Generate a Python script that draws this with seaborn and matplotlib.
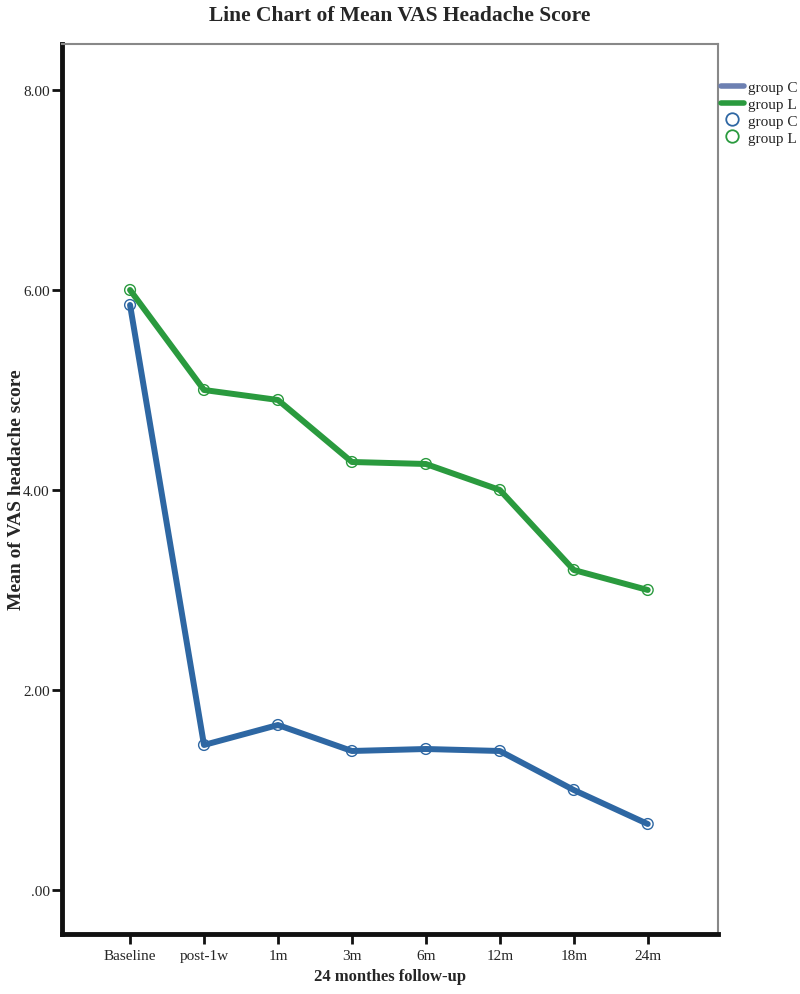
import pandas as pd
import numpy as np
import matplotlib.pyplot as plt
import seaborn as sns
from matplotlib.lines import Line2D

sns.set_theme(style="white")
plt.rcParams["font.family"] = ["Liberation Serif", "DejaVu Serif"]

# Dados
timepoints = ["Baseline", "post-1w", "1m", "3m", "6m", "12m", "18m", "24m"]
group_c = [5.85, 1.45, 1.65, 1.39, 1.41, 1.39, 1.00, 0.66]
group_l = [6.00, 5.00, 4.90, 4.28, 4.26, 4.00, 3.20, 3.00]

df = pd.DataFrame({
    "time": timepoints * 2,
    "pos": list(range(len(timepoints))) * 2,
    "score": group_c + group_l,
    "group": ["group C"] * len(timepoints) + ["group L"] * len(timepoints),
})

colors = {"group C": "#2e67a3", "group L": "#2a9a3e"}

fig = plt.figure(figsize=(8, 9.95), dpi=100)
ax = fig.add_axes([0.0775, 0.0603, 0.82, 0.8945])

sns.lineplot(data=df, x="pos", y="score", hue="group", palette=colors,
             linewidth=4.3, ax=ax, legend=False, sort=False)
sns.scatterplot(data=df, x="pos", y="score", hue="group", palette=colors,
                marker="o", s=60, linewidth=1.0, ax=ax, legend=False)
for coll in ax.collections:
    coll.set_facecolor("none")
    coll.set_edgecolor([colors[g] for g in df["group"]])

ax.set_xlim(-0.92, 7.95)
ax.set_ylim(-0.44, 8.46)
ax.set_xticks(range(len(timepoints)))
ax.set_xticklabels(timepoints)
ax.set_yticks([0, 2, 4, 6, 8])
ax.set_yticklabels([".00", "2.00", "4.00", "6.00", "8.00"])
ax.tick_params(axis="both", which="both", direction="out", length=7, width=2,
               color="#111111", labelsize=11, bottom=True, left=True)
ax.tick_params(axis="x", pad=4)
ax.tick_params(axis="y", pad=2)

for side in ["left", "bottom"]:
    ax.spines[side].set_linewidth(3.5)
    ax.spines[side].set_color("#111111")
for side in ["top", "right"]:
    ax.spines[side].set_linewidth(1.5)
    ax.spines[side].set_color("#888888")

ax.set_xlabel("24 monthes follow-up", fontsize=12, fontweight="bold", labelpad=4)
ax.set_ylabel("Mean of VAS headache score", fontsize=14, fontweight="bold")
ax.yaxis.set_label_coords(-0.056, 0.5)
fig.suptitle("Line Chart of Mean VAS Headache Score", fontsize=15.5,
             fontweight="bold", x=0.5, y=0.994)

handles = [
    Line2D([], [], color="#6d80b2", linewidth=4),
    Line2D([], [], color="#2a9a3e", linewidth=4),
    Line2D([], [], color="#2e67a3", marker="o", linestyle="none",
           markerfacecolor="none", markersize=9, markeredgewidth=1.3),
    Line2D([], [], color="#2a9a3e", marker="o", linestyle="none",
           markerfacecolor="none", markersize=9, markeredgewidth=1.3),
]
fig.legend(handles, ["group C", "group L", "group C", "group L"],
           loc="upper left", bbox_to_anchor=(0.901, 0.918), frameon=False,
           fontsize=11, handlelength=1.5, handletextpad=0.25, labelspacing=0.2,
           borderaxespad=0, borderpad=0)

plt.savefig("out.png", dpi=100)
